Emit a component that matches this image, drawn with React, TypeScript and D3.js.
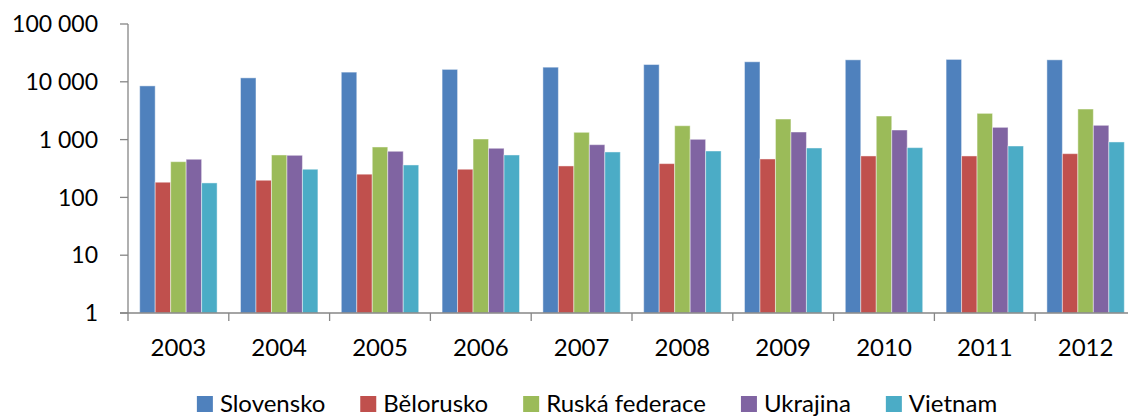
import React, { useEffect, useRef } from 'react'
import * as d3 from 'd3'

const years = ['2003', '2004', '2005', '2006', '2007', '2008', '2009', '2010', '2011', '2012']
const seriesNames = ['Slovensko', 'Bělorusko', 'Ruská federace', 'Ukrajina', 'Vietnam']
const slovensko = [8500, 11700, 14700, 16400, 17900, 19900, 22200, 24000, 24400, 24000]
const belorusko = [183, 198, 252, 307, 350, 384, 462, 521, 521, 571]
const ruska = [415, 542, 745, 1024, 1337, 1738, 2270, 2557, 2845, 3380]
const ukrajina = [457, 535, 628, 708, 817, 1012, 1353, 1465, 1630, 1767]
const vietnam = [178, 307, 364, 542, 611, 635, 716, 726, 775, 910]
const yTicks = [1, 10, 100, 1000, 10000, 100000]
const colors = ['#4F81BD', '#C0504D', '#9BBB59', '#8064A2', '#4BACC6']

const W = 1128
const H = 416
const margin = { left: 128, top: 24, right: -8, bottom: 103 }
const FONT = 'Lato, "Open Sans", sans-serif'
const AXIS = '#868686'

const fmt = (v: number) => d3.format(',')(v).replace(/,/g, ' ')

function render(svgEl: SVGSVGElement) {
  const svg = d3.select(svgEl)
  svg.selectAll('*').remove()

  const x0 = margin.left
  const x1 = W - margin.right
  const y0 = H - margin.bottom
  const y1 = margin.top

  const xScale = d3.scaleBand().domain(years).range([x0, x1]).paddingInner(0.232).paddingOuter(0.116)
  const xStep = d3.scaleBand().domain(years).range([x0, x1])
  const sub = d3.scaleBand().domain(seriesNames).range([0, xScale.bandwidth()])
  const yScale = d3.scaleLog().domain([1, 100000]).range([y0, y1])

  const all = [slovensko, belorusko, ruska, ukrajina, vietnam]
  const g = svg.append('g')

  all.forEach((vals, si) => {
    g.selectAll(null)
      .data(vals)
      .enter()
      .append('rect')
      .attr('x', (d, i) => (xScale(years[i]) as number) + (sub(seriesNames[si]) as number))
      .attr('width', sub.bandwidth())
      .attr('y', d => yScale(d))
      .attr('height', d => y0 - yScale(d))
      .attr('fill', colors[si])
      .attr('stroke', 'rgba(255,255,255,0.45)')
      .attr('stroke-width', 1)
  })

  // y axis
  g.append('line').attr('x1', x0).attr('x2', x0).attr('y1', y1).attr('y2', y0 + 8)
    .attr('stroke', AXIS).attr('stroke-width', 1.3)
  g.selectAll(null).data(yTicks).enter().append('line')
    .attr('x1', x0 - 8).attr('x2', x0)
    .attr('y1', d => yScale(d)).attr('y2', d => yScale(d))
    .attr('stroke', AXIS).attr('stroke-width', 1.3)
  g.selectAll(null).data(yTicks).enter().append('text')
    .attr('x', 98).attr('y', d => yScale(d)).attr('dy', '0.36em')
    .attr('text-anchor', 'end')
    .style('font-family', FONT).style('font-size', '23px').attr('fill', '#000')
    .text(d => fmt(d))

  // x axis
  g.append('line').attr('x1', x0 - 8).attr('x2', x1).attr('y1', y0).attr('y2', y0)
    .attr('stroke', AXIS).attr('stroke-width', 1.3)
  g.selectAll(null).data(years.slice(1)).enter().append('line')
    .attr('x1', d => xStep(d) as number).attr('x2', d => xStep(d) as number)
    .attr('y1', y0).attr('y2', y0 + 8)
    .attr('stroke', AXIS).attr('stroke-width', 1.3)
  g.selectAll(null).data(years).enter().append('text')
    .attr('x', d => (xStep(d) as number) + xStep.bandwidth() / 2)
    .attr('y', 356)
    .attr('text-anchor', 'middle')
    .style('font-family', FONT).style('font-size', '24px').attr('fill', '#000')
    .text(d => d)

  // legend
  const leg = svg.append('g')
  const items = seriesNames.map((name, i) => {
    const it = leg.append('g')
    it.append('rect').attr('width', 16).attr('height', 16).attr('y', 396).attr('fill', colors[i])
    const t = it.append('text').attr('x', 23).attr('y', 411.5)
      .style('font-family', FONT).style('font-size', '24px').attr('fill', '#000')
      .text(name)
    return { it, w: 23 + (t.node() as SVGTextElement).getComputedTextLength() }
  })
  const gap = 35
  const total = d3.sum(items, d => d.w) + gap * (items.length - 1)
  let cx = 597 - total / 2
  items.forEach(d => {
    d.it.attr('transform', `translate(${cx},0)`)
    cx += d.w + gap
  })
}

export default function App() {
  const ref = useRef<SVGSVGElement>(null)
  useEffect(() => {
    if (ref.current) render(ref.current)
  })
  return (
    <svg ref={ref} width={W} height={H}
      style={{ position: 'absolute', left: 0, top: 0, background: '#fff', display: 'block' }} />
  )
}
